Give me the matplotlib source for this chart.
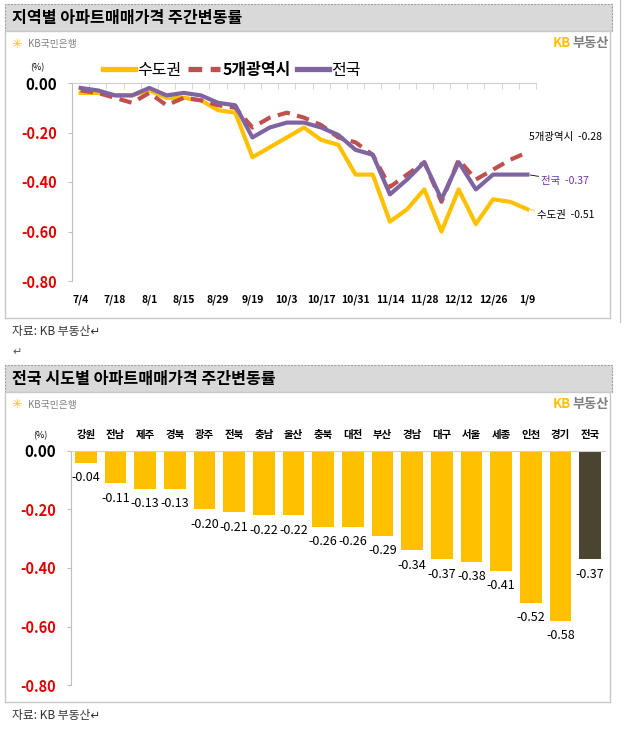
import matplotlib
matplotlib.use("Agg")
import matplotlib.pyplot as plt
from matplotlib.patches import Rectangle
from matplotlib.lines import Line2D
import numpy as np

plt.rcParams['font.family'] = ['Noto Sans CJK KR', 'DejaVu Sans']

# --- data: weekly change by region group (%)
dates = ['7/4', '7/11', '7/18', '7/25', '8/1', '8/8', '8/15', '8/22', '8/29', '9/5',
         '9/19', '9/26', '10/3', '10/10', '10/17', '10/24', '10/31', '11/7', '11/14',
         '11/21', '11/28', '12/5', '12/12', '12/19', '12/26', '1/2', '1/9']
sudo = [-0.04, -0.04, -0.05, -0.05, -0.03, -0.06, -0.06, -0.07, -0.11, -0.12,
        -0.30, -0.26, -0.22, -0.18, -0.23, -0.25, -0.37, -0.37, -0.56,
        -0.51, -0.43, -0.60, -0.43, -0.57, -0.47, -0.48, -0.51]
metro = [-0.03, -0.04, -0.06, -0.08, -0.04, -0.09, -0.06, -0.07, -0.09, -0.10,
         -0.18, -0.14, -0.12, -0.14, -0.17, -0.22, -0.24, -0.29, -0.42,
         -0.37, -0.32, -0.48, -0.31, -0.39, -0.35, -0.31, -0.28]
nation = [-0.02, -0.03, -0.05, -0.05, -0.02, -0.05, -0.04, -0.05, -0.08, -0.09,
          -0.22, -0.18, -0.16, -0.16, -0.18, -0.21, -0.27, -0.29, -0.45,
          -0.39, -0.32, -0.47, -0.32, -0.43, -0.37, -0.37, -0.37]

# --- data: weekly change by province (%)
regions = ['강원', '전남', '제주', '경북', '광주', '전북', '충남', '울산', '충북',
           '대전', '부산', '경남', '대구', '서울', '세종', '인천', '경기', '전국']
change = [-0.04, -0.11, -0.13, -0.13, -0.20, -0.21, -0.22, -0.22, -0.26,
          -0.26, -0.29, -0.34, -0.37, -0.38, -0.41, -0.52, -0.58, -0.37]

yticks = [0.0, -0.2, -0.4, -0.6, -0.8]

YELLOW = '#FFC000'
RED = '#C0504D'
PURPLE = '#8064A2'
DARK = '#4A4530'
TICKRED = '#E00000'

W, H = 627, 730


def fx(x):
    return x / W


def fy(y):
    return 1 - y / H


fig = plt.figure(figsize=(W / 100, H / 100), dpi=100)


def panel(top, bottom, title):
    # title band
    fig.add_artist(Rectangle((fx(5), fy(top + 27)), (612 - 5) / W, 27 / H,
                             transform=fig.transFigure, facecolor='#D9D9D9',
                             edgecolor='#A0A0A0', lw=0.8, ls=(0, (2, 1)), zorder=-2))
    fig.text(fx(12), fy(top + 14), title, fontsize=11.6, weight='bold', va='center')
    # chart box
    fig.add_artist(Rectangle((fx(5), fy(bottom)), (610 - 5) / W, (bottom - top - 27) / H,
                             transform=fig.transFigure, facecolor='white',
                             edgecolor='#C8C8C8', lw=1, zorder=-2))
    # logos
    ly = top + 40
    fig.text(fx(11), fy(ly), '✳', color=YELLOW, fontsize=9, va='center',
             family=['DejaVu Sans'], weight='bold')
    fig.text(fx(28), fy(ly), 'KB국민은행', color='#808080', fontsize=7, va='center')
    fig.text(fx(553), fy(ly - 1), 'KB', color=YELLOW, fontsize=9.5, weight='bold', va='center')
    fig.text(fx(572), fy(ly - 1), '부동산', color='#7F7F7F', fontsize=9.5, weight='bold', va='center')
    # source
    fig.text(fx(12), fy(bottom + 13), '자료: KB 부동산↵', fontsize=8.5, color='#333333',
             va='center')


def style_yaxis(ax):
    ax.patch.set_alpha(0)
    ax.set_ylim(-0.8, 0)
    ax.set_yticks(yticks)
    ax.set_yticklabels([f'{v:.2f}' for v in yticks])
    ax.tick_params(axis='y', length=3, color='#BFBFBF', pad=8)
    for i, lab in enumerate(ax.get_yticklabels()):
        lab.set_fontweight('bold')
        if i == 0:
            lab.set_color('black')
            lab.set_fontsize(11)
        else:
            lab.set_color(TICKRED)
            lab.set_fontsize(10.5)
    for s in ['right', 'bottom']:
        ax.spines[s].set_visible(False)
    ax.spines['left'].set_color('#BFBFBF')
    ax.spines['top'].set_color('#D0D0D0')


# ---------------- top panel: line chart
panel(4, 318, '지역별 아파트매매가격 주간변동률')

ax1 = fig.add_axes([fx(72), fy(281), (536 - 72) / W, (281 - 83) / H])
x = np.arange(len(dates))
ax1.plot(x, sudo, color=YELLOW, lw=3, clip_on=False, zorder=3)
ax1.plot(x, metro, color=RED, lw=3, dashes=(3, 1.8), clip_on=False, zorder=4)
ax1.plot(x, nation, color=PURPLE, lw=3, clip_on=False, zorder=5)
ax1.set_xlim(-0.5, len(dates) - 0.5)
style_yaxis(ax1)
ax1.set_xticks(x[::2])
ax1.set_xticklabels(dates[::2], fontsize=7.5, weight='bold')
ax1.tick_params(axis='x', length=0, pad=10)
ax1.set_xticks(np.arange(-0.5, len(dates), 1), minor=True)
ax1.tick_params(axis='x', which='minor', bottom=False, top=True, direction='in',
                length=4, color='#D0D0D0')
fig.text(fx(37), fy(68), '(%)', fontsize=6.5, ha='center', va='center')

handles = [Line2D([], [], color=YELLOW, lw=3.8),
           Line2D([], [], color=RED, lw=3.8, dashes=(2.6, 1.6)),
           Line2D([], [], color=PURPLE, lw=3.8)]
leg = fig.legend(handles, ['수도권', '5개광역시', '전국'], ncol=3, frameon=False,
                 loc='center', bbox_to_anchor=(fx(232), fy(70)), fontsize=11.5,
                 handlelength=2.0, handletextpad=0.15, columnspacing=0.4)
leg.get_texts()[1].set_fontweight('bold')

last = len(dates) - 1
ax1.annotate(f'5개광역시  {metro[-1]:.2f}', (last, metro[-1]), xytext=(38, 15),
             textcoords='offset pixels', ha='center', va='center', fontsize=7.5)
ax1.annotate(f'전국  {nation[-1]:.2f}', (last, nation[-1]), xytext=(14, -6),
             textcoords='offset pixels', ha='left', va='center', fontsize=7.5,
             color='#7030A0', arrowprops=dict(arrowstyle='-', color='black', lw=0.6,
                                              shrinkA=0, shrinkB=2))
ax1.annotate(f'수도권  {sudo[-1]:.2f}', (last, sudo[-1]), xytext=(10, -6),
             textcoords='offset pixels', ha='left', va='center', fontsize=7.5,
             arrowprops=dict(arrowstyle='-', color=YELLOW, lw=0.6,
                             shrinkA=0, shrinkB=2))

fig.text(fx(12), fy(352), '↵', fontsize=8, color='#555555', va='center')

# ---------------- bottom panel: bar chart
panel(365, 702, '전국 시도별 아파트매매가격 주간변동률')

ax2 = fig.add_axes([fx(71), fy(685), (605 - 71) / W, (685 - 451) / H])
colors = [YELLOW] * (len(regions) - 1) + [DARK]
bars = ax2.bar(np.arange(len(regions)), change, width=0.74, color=colors)
ax2.bar_label(bars, labels=[f'{v:.2f}' for v in change], padding=6, fontsize=9)
ax2.set_xlim(-0.5, len(regions) - 0.5)
style_yaxis(ax2)
ax2.xaxis.tick_top()
ax2.set_xticks(np.arange(len(regions)))
ax2.set_xticklabels(regions, fontsize=7.5, weight='bold')
ax2.tick_params(axis='x', length=0, pad=8)
fig.text(fx(40), fy(436), '(%)', fontsize=6.5, ha='center', va='center')

# page margin marker on the right
fig.add_artist(Line2D([fx(620), fx(620)], [fy(0), fy(322)], transform=fig.transFigure,
                      color='#C0C0C0', lw=0.8))

fig.savefig('out.png', dpi=100)
